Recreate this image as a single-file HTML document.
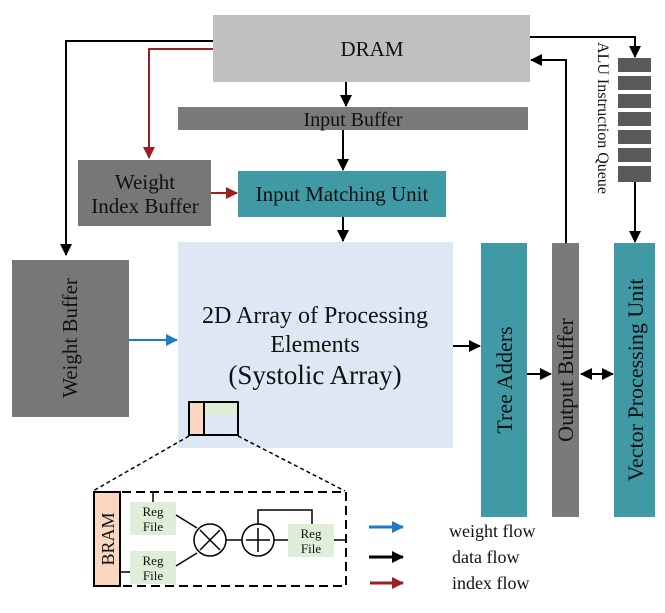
<!DOCTYPE html>
<html><head><style>
body{margin:0;background:#fff}
svg text{font-family:"Liberation Serif",serif;fill:#111}
</style></head><body>
<svg width="665" height="608" viewBox="0 0 665 608" xmlns="http://www.w3.org/2000/svg">
<defs>
<marker id="ak2" markerWidth="12" markerHeight="12" refX="11" refY="6" orient="auto" markerUnits="userSpaceOnUse"><path d="M0,0L12,6L0,12z" fill="#000"/></marker>
<marker id="akr" markerWidth="12" markerHeight="12" refX="11" refY="6" orient="auto" markerUnits="userSpaceOnUse"><path d="M0,0L12,6L0,12z" fill="#a01e22"/></marker>
<marker id="akb" markerWidth="12" markerHeight="12" refX="11" refY="6" orient="auto" markerUnits="userSpaceOnUse"><path d="M0,0L12,6L0,12z" fill="#1e7bc6"/></marker>
<marker id="aks" markerWidth="12" markerHeight="12" refX="1" refY="6" orient="auto" markerUnits="userSpaceOnUse"><path d="M12,0L0,6L12,12z" fill="#000"/></marker>
</defs>
<rect x="213" y="15" width="317" height="67" fill="#c0c0c0"/>
<text x="372" y="56" font-size="21" text-anchor="middle">DRAM</text>
<rect x="178" y="107" width="350" height="23" fill="#7a7a7a"/>
<text x="353" y="126" font-size="20" text-anchor="middle">Input Buffer</text>
<rect x="78" y="160" width="133" height="66" fill="#777"/>
<text x="145" y="189" font-size="21" text-anchor="middle">Weight</text>
<text x="145" y="213" font-size="21" text-anchor="middle">Index Buffer</text>
<rect x="238" y="171" width="208" height="46" fill="#3f9aa6"/>
<text x="342" y="201" font-size="21" text-anchor="middle">Input Matching Unit</text>
<rect x="12" y="260" width="117" height="157" fill="#777"/>
<text transform="translate(77,338) rotate(-90)" font-size="21" text-anchor="middle">Weight Buffer</text>
<rect x="178" y="242" width="275" height="206" fill="#dde8f4"/>
<text x="315" y="323" font-size="24" text-anchor="middle">2D Array of Processing</text>
<text x="315" y="352" font-size="24" text-anchor="middle">Elements</text>
<text x="315" y="384" font-size="27" text-anchor="middle">(Systolic Array)</text>
<rect x="189" y="402" width="49" height="33" fill="#dde8f4" stroke="#000" stroke-width="2"/>
<rect x="204" y="403" width="33" height="13" fill="#dfeed8"/>
<rect x="190" y="403" width="14" height="31" fill="#fbd7c1"/>
<line x1="204" y1="402" x2="204" y2="435" stroke="#000" stroke-width="2"/>
<rect x="481" y="243" width="46" height="274" fill="#3f9aa6"/>
<text transform="translate(512,380) rotate(-90)" font-size="22" text-anchor="middle">Tree Adders</text>
<rect x="552" y="243" width="27" height="274" fill="#7a7a7a"/>
<text transform="translate(573,380) rotate(-90)" font-size="22" text-anchor="middle">Output Buffer</text>
<rect x="614" y="243" width="41" height="274" fill="#3f9aa6"/>
<text transform="translate(643,380) rotate(-90)" font-size="22" text-anchor="middle">Vector Processing Unit</text>
<g fill="#5a5a5a">
<rect x="618" y="58" width="33" height="14"/><rect x="618" y="76" width="33" height="14"/><rect x="618" y="94" width="33" height="14"/><rect x="618" y="112" width="33" height="14"/><rect x="618" y="130" width="33" height="14"/><rect x="618" y="148" width="33" height="14"/><rect x="618" y="166" width="33" height="16"/>
</g>
<text transform="translate(598,42) rotate(90)" font-size="16">ALU Instruction Queue</text>
<g fill="none" stroke-width="2">
<path d="M213,41H66V255" stroke="#000" marker-end="url(#ak2)"/>
<path d="M213,49H149V158" stroke="#a01e22" marker-end="url(#akr)"/>
<path d="M211,193H237" stroke="#a01e22" marker-end="url(#akr)"/>
<path d="M346,82V106" stroke="#000" marker-end="url(#ak2)"/>
<path d="M343,130V170" stroke="#000" marker-end="url(#ak2)"/>
<path d="M343,217V241" stroke="#000" marker-end="url(#ak2)"/>
<path d="M129,340H177" stroke="#1e7bc6" marker-end="url(#akb)"/>
<path d="M453,346H480" stroke="#000" marker-end="url(#ak2)"/>
<path d="M527,374H551" stroke="#000" marker-end="url(#ak2)"/>
<path d="M581,374H613" stroke="#000" marker-start="url(#aks)" marker-end="url(#ak2)"/>
<path d="M566,243V60H531" stroke="#000" marker-end="url(#ak2)"/>
<path d="M530,37H635V57" stroke="#000" marker-end="url(#ak2)"/>
<path d="M635,182V242" stroke="#000" marker-end="url(#ak2)"/>
</g>
<g stroke="#000" stroke-width="1.5" fill="none">
<path d="M189,436L93,491M238,436L345,491" stroke-dasharray="4,3"/>
<rect x="94" y="492" width="252" height="94" stroke-dasharray="9,5" stroke-width="2"/>
</g>
<rect x="94" y="492" width="26" height="94" fill="#fbd7c1" stroke="#000" stroke-width="2"/>
<text transform="translate(114,539) rotate(-90)" font-size="18" text-anchor="middle">BRAM</text>
<rect x="130" y="502" width="46" height="33" fill="#dfeed8"/>
<text x="153" y="516" font-size="13" text-anchor="middle">Reg</text><text x="153" y="531" font-size="13" text-anchor="middle">File</text>
<rect x="130" y="551" width="46" height="33" fill="#dfeed8"/>
<text x="153" y="565" font-size="13" text-anchor="middle">Reg</text><text x="153" y="580" font-size="13" text-anchor="middle">File</text>
<rect x="288" y="524" width="46" height="33" fill="#dfeed8"/>
<text x="311" y="538" font-size="13" text-anchor="middle">Reg</text><text x="311" y="553" font-size="13" text-anchor="middle">File</text>
<g stroke="#000" stroke-width="1.5" fill="none">
<line x1="153" y1="492" x2="153" y2="502"/>
<line x1="120" y1="572" x2="130" y2="572"/>
<line x1="176" y1="515" x2="197" y2="528"/>
<line x1="176" y1="566" x2="197" y2="553"/>
<circle cx="210" cy="540" r="16"/>
<path d="M200,530L220,550M220,530L200,550"/>
<line x1="226" y1="540" x2="242" y2="540"/>
<circle cx="258" cy="540" r="16"/>
<path d="M258,528V552M246,540H270"/>
<line x1="274" y1="540" x2="288" y2="540"/>
<path d="M258,524V510H312V524"/>
<line x1="334" y1="540" x2="346" y2="540"/>
</g>
<line x1="369" y1="527" x2="403" y2="527" stroke="#1e7bc6" stroke-width="3" marker-end="url(#akb)"/>
<line x1="369" y1="557" x2="403" y2="557" stroke="#000" stroke-width="3" marker-end="url(#ak2)"/>
<line x1="370" y1="583" x2="403" y2="583" stroke="#a01e22" stroke-width="3" marker-end="url(#akr)"/>
<text x="449" y="537" font-size="18">weight flow</text>
<text x="452" y="563" font-size="18">data flow</text>
<text x="452" y="589" font-size="18">index flow</text>
</svg>
</body></html>
